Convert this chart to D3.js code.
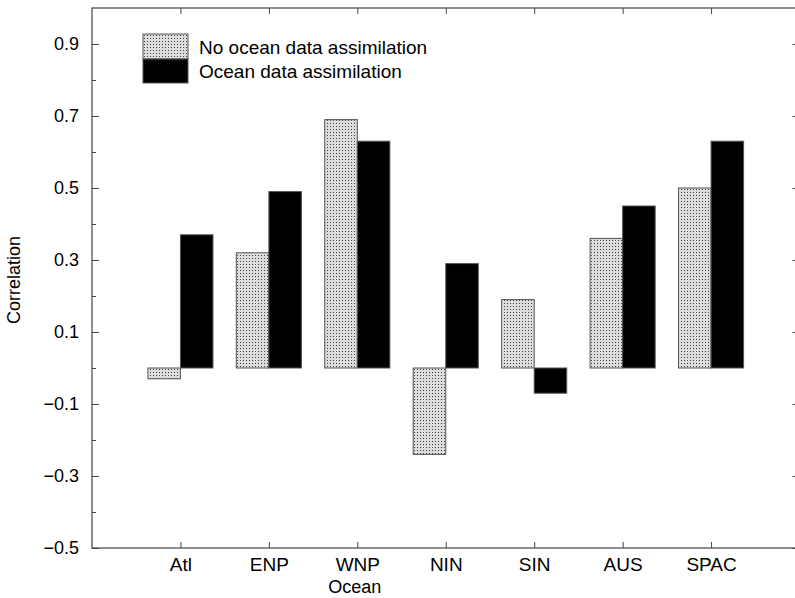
<!DOCTYPE html>
<html>
<head>
<meta charset="utf-8">
<title>Correlation by ocean</title>
<script src="https://d3js.org/d3.v7.min.js"></script>
<style>
  body { margin: 0; background: #fff; }
  text { font-family: "Liberation Sans", Arial, Helvetica, sans-serif; fill: #000; }
</style>
</head>
<body>
<div id="chart"></div>
<script>
// data
var oceans = ["Atl", "ENP", "WNP", "NIN", "SIN", "AUS", "SPAC"];
var noAssim = [-0.03, 0.32, 0.69, -0.24, 0.19, 0.36, 0.50];
var withAssim = [0.37, 0.49, 0.63, 0.29, -0.07, 0.45, 0.63];
var yTicks = [-0.5, -0.3, -0.1, 0.1, 0.3, 0.5, 0.7, 0.9];
var yMinor = [-0.4, -0.2, 0.0, 0.2, 0.4, 0.6, 0.8];
var seriesNames = ["No ocean data assimilation", "Ocean data assimilation"];

var W = 795, H = 598;
var margin = { top: 8, left: 92 };
var plotW = 707.5, plotH = 540;

var svg = d3.select("#chart").append("svg")
    .attr("width", W)
    .attr("height", H);

// stipple fill for the "no assimilation" bars
var defs = svg.append("defs");
var pat = defs.append("pattern")
    .attr("id", "stipple")
    .attr("patternUnits", "userSpaceOnUse")
    .attr("width", 3)
    .attr("height", 3);
pat.append("rect").attr("width", 3).attr("height", 3).attr("fill", "#dcdcdc");
pat.append("rect").attr("x", 1).attr("y", 1).attr("width", 1).attr("height", 1).attr("fill", "#444");

var g = svg.append("g")
    .attr("transform", "translate(" + margin.left + "," + margin.top + ")");

var x = d3.scalePoint()
    .domain(oceans)
    .range([0, plotW])
    .padding(1);

var y = d3.scaleLinear()
    .domain([-0.5, 1.0])
    .range([plotH, 0]);

var bw = x.step() * 0.368;

// bars
g.selectAll(".bar-no")
    .data(oceans)
    .enter().append("rect")
    .attr("class", "bar-no")
    .attr("x", function(d) { return x(d) - bw; })
    .attr("y", function(d, i) { return y(Math.max(0, noAssim[i])); })
    .attr("width", bw)
    .attr("height", function(d, i) { return Math.abs(y(noAssim[i]) - y(0)); })
    .attr("fill", "url(#stipple)")
    .attr("stroke", "#555")
    .attr("stroke-width", 1);

g.selectAll(".bar-yes")
    .data(oceans)
    .enter().append("rect")
    .attr("class", "bar-yes")
    .attr("x", function(d) { return x(d); })
    .attr("y", function(d, i) { return y(Math.max(0, withAssim[i])); })
    .attr("width", bw)
    .attr("height", function(d, i) { return Math.abs(y(withAssim[i]) - y(0)); })
    .attr("fill", "#000")
    .attr("stroke", "#555")
    .attr("stroke-width", 1);

// frame
g.append("rect")
    .attr("width", plotW)
    .attr("height", plotH)
    .attr("fill", "none")
    .attr("stroke", "#444")
    .attr("stroke-width", 1.2);

// axes with inward ticks
var yAxis = d3.axisLeft(y).tickValues(yTicks).tickSize(-7).tickPadding(13)
    .tickFormat(function(d) { return d < 0 ? "\u2212" + d3.format(".1f")(-d) : d3.format(".1f")(d); });
var yAxisG = g.append("g").call(yAxis);
yAxisG.select(".domain").remove();
yAxisG.selectAll("text").style("font-size", "18px");

var yMinorG = g.append("g").call(d3.axisLeft(y).tickValues(yMinor).tickSize(-4).tickFormat(""));
yMinorG.select(".domain").remove();

var yRight = g.append("g").attr("transform", "translate(" + plotW + ",0)")
    .call(d3.axisRight(y).tickValues(yTicks).tickSize(-7).tickFormat(""));
yRight.select(".domain").remove();
var yRightMinor = g.append("g").attr("transform", "translate(" + plotW + ",0)")
    .call(d3.axisRight(y).tickValues(yMinor).tickSize(-4).tickFormat(""));
yRightMinor.select(".domain").remove();

var xAxisG = g.append("g").attr("transform", "translate(0," + plotH + ")")
    .call(d3.axisBottom(x).tickSize(-6).tickPadding(10));
xAxisG.select(".domain").remove();
xAxisG.selectAll("text").style("font-size", "19px");

var xTop = g.append("g").call(d3.axisTop(x).tickSize(-6).tickFormat(""));
xTop.select(".domain").remove();

g.selectAll(".tick line").attr("stroke", "#444");

// axis titles
svg.append("text")
    .attr("x", margin.left + plotW / 2 - 91)
    .attr("y", 593)
    .attr("text-anchor", "middle")
    .style("font-size", "18px")
    .text("Ocean");

svg.append("text")
    .attr("transform", "translate(20,280) rotate(-90)")
    .attr("text-anchor", "middle")
    .style("font-size", "18px")
    .text("Correlation");

// legend
var legend = svg.append("g").attr("transform", "translate(143,34)");
legend.append("rect")
    .attr("width", 45).attr("height", 25)
    .attr("fill", "url(#stipple)")
    .attr("stroke", "#555");
legend.append("rect")
    .attr("y", 25)
    .attr("width", 45).attr("height", 24)
    .attr("fill", "#000")
    .attr("stroke", "#555");
legend.selectAll(".leg-label")
    .data(seriesNames)
    .enter().append("text")
    .attr("class", "leg-label")
    .attr("x", 56)
    .attr("y", function(d, i) { return 20 + i * 24; })
    .style("font-size", "19px")
    .text(function(d) { return d; });
</script>
</body>
</html>
